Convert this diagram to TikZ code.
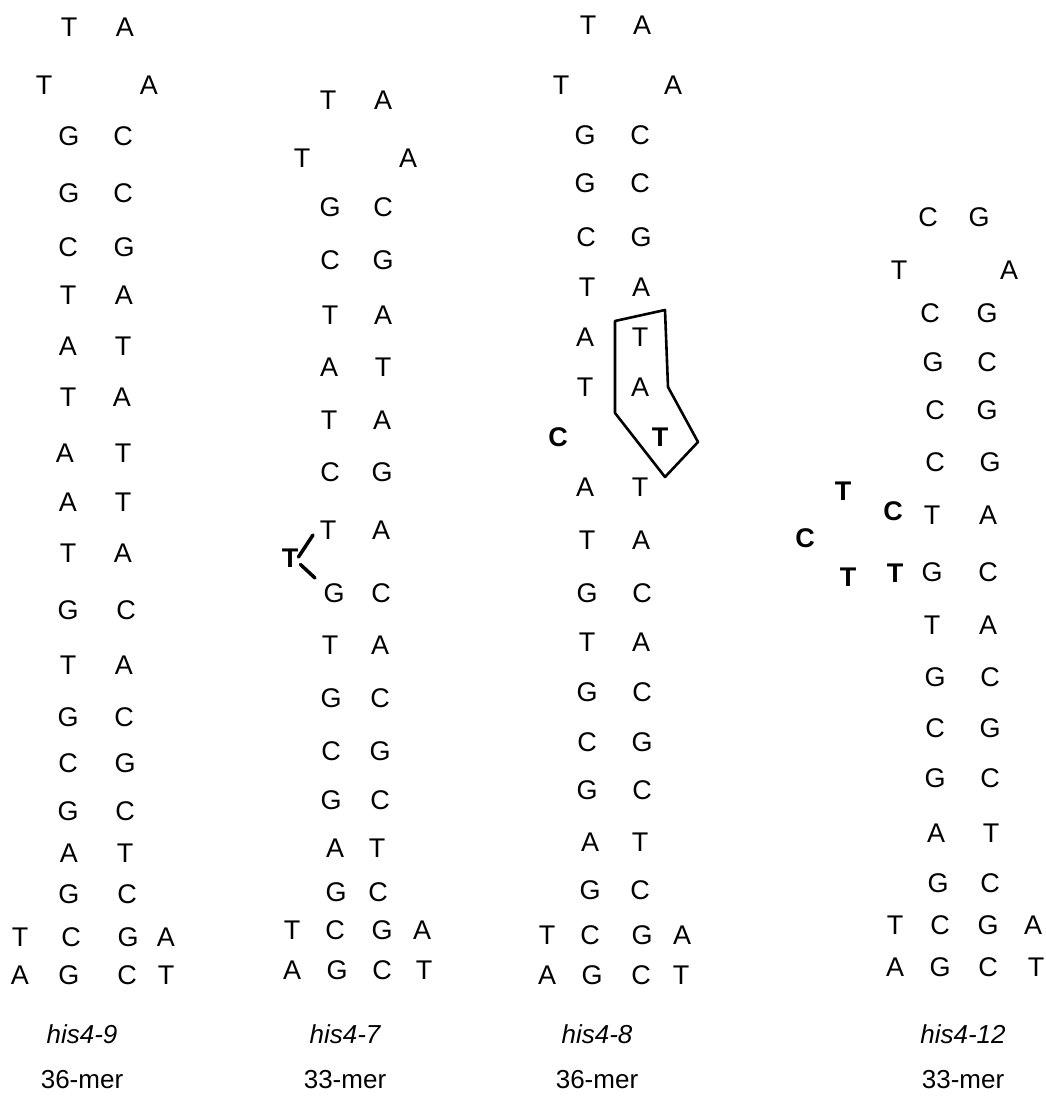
\documentclass[tikz,border=0pt]{standalone}
\usepackage{fontspec}
\setmainfont{Liberation Sans}
\usetikzlibrary{positioning}

\tikzset{
  nt/.style={inner sep=0pt, font=\fontsize{27}{30}\selectfont},
  ntb/.style={nt, font=\fontsize{27}{30}\selectfont\bfseries},
  lbl/.style={inner sep=0pt, font=\fontsize{26}{30}\selectfont\itshape},
  mer/.style={inner sep=0pt, font=\fontsize{26}{30}\selectfont},
}

\begin{document}
\begin{tikzpicture}[line cap=round,line join=round,x=1pt,y=-1pt]
	\useasboundingbox (0,0) rectangle (1045,1099);
	%Tige his4-9
	\foreach \yy/\xl/\bl/\xr/\br [count=\i] in {27/69/T/125/A, 85/44/T/149/A, 136/69/G/123/C,
		193/69/G/123/C, 247/68/C/124/G, 295/68/T/124/A, 346/68/A/123/T, 397/68/T/122/A,
		453/65/A/123/T, 502/68/A/123/T, 553/68/T/123/A, 610/68/G/126/C, 665/68/T/124/A,
		717/68/G/124/C, 763/68/C/125/G, 811/68/G/125/C, 853/69/A/125/T, 894/69/G/127/C}
	{
		\node[nt] (a\i l) at (\xl,\yy) {\bl};
		\node[nt] (a\i r) at (\xr,\yy) {\br};
	}
	\foreach \xx/\ll [count=\i] in {20/T, 71/C, 128/G, 166/A}
		\node[nt] (ah\i) at (\xx,937) {\ll};
	\foreach \xx/\ll [count=\i] in {20/A, 69/G, 127/C, 166/T}
		\node[nt] (ab\i) at (\xx,975) {\ll};
	\node[lbl] (nom9) at (82,1034) {his4-9};
	\node[mer] (mer9) at (82,1080) {36-mer};

	%Tige his4-7
	\foreach \yy/\xl/\bl/\xr/\br [count=\i] in {100/328/T/383/A, 158/302/T/408/A, 207/330/G/383/C,
		260/330/C/383/G, 315/330/T/383/A, 367/329/A/383/T, 420/329/T/382/A, 472/330/C/382/G,
		530/328/T/381/A, 593/334/G/381/C, 645/330/T/380/A, 698/331/G/380/C, 751/331/C/380/G,
		800/331/G/380/C, 848/335/A/377/T, 892/336/G/378/C}
	{
		\node[nt] (b\i l) at (\xl,\yy) {\bl};
		\node[nt] (b\i r) at (\xr,\yy) {\br};
	}
	\foreach \xx/\ll [count=\i] in {292/T, 335/C, 382/G, 422/A}
		\node[nt] (bh\i) at (\xx,930) {\ll};
	\foreach \xx/\ll [count=\i] in {292/A, 337/G, 382/C, 424/T}
		\node[nt] (bb\i) at (\xx,970) {\ll};
	%T en plus
	\node[ntb] (t7) at (290,558) {T};
	\coordinate (t7a) at (313,535);
	\coordinate (t7b) at (315,578);
	\draw[line width=3.5pt] (t7.east) ++(0,-1) -- (t7a);
	\draw[line width=3.5pt] (t7.south east) ++(2,-3) -- (t7b);
	\node[lbl] (nom7) at (345,1034) {his4-7};
	\node[mer] (mer7) at (345,1080) {33-mer};

	%Tige his4-8
	\foreach \yy/\xl/\bl/\xr/\br [count=\i] in {25/588/T/642/A, 85/561/T/673/A, 135/585/G/640/C,
		183/585/G/640/C, 237/586/C/641/G, 287/587/T/641/A, 337/585/A/640/T, 387/585/T/640/A,
		487/585/A/640/T, 540/587/T/641/A, 593/587/G/642/C, 642/587/T/641/A, 692/587/G/642/C,
		742/587/C/642/G, 790/587/G/642/C, 842/590/A/640/T, 890/590/G/640/C}
	{
		\node[nt] (c\i l) at (\xl,\yy) {\bl};
		\node[nt] (c\i r) at (\xr,\yy) {\br};
	}
	\node[ntb] (c8) at (558,437) {C};
	\node[ntb] (t8) at (660,437) {T};
	\foreach \xx/\ll [count=\i] in {547/T, 590/C, 642/G, 682/A}
		\node[nt] (ch\i) at (\xx,935) {\ll};
	\foreach \xx/\ll [count=\i] in {547/A, 592/G, 641/C, 681/T}
		\node[nt] (cb\i) at (\xx,975) {\ll};
	%encadre
	\draw[line width=2.6pt] (615,321) -- (665,310) -- (668,387) -- (698,442)
		-- (665,477) -- (615,413) -- cycle;
	\node[lbl] (nom8) at (597,1034) {his4-8};
	\node[mer] (mer8) at (597,1080) {36-mer};

	%Tige his4-12
	\foreach \yy/\xl/\bl/\xr/\br [count=\i] in {217/928/C/979/G, 270/899/T/1009/A, 313/930/C/987/G,
		362/933/G/987/C, 410/935/C/987/G, 462/935/C/990/G, 515/932/T/988/A, 572/932/G/988/C,
		625/932/T/988/A, 677/935/G/990/C, 728/935/C/990/G, 778/935/G/990/C, 833/936/A/991/T,
		883/938/G/990/C}
	{
		\node[nt] (d\i l) at (\xl,\yy) {\bl};
		\node[nt] (d\i r) at (\xr,\yy) {\br};
	}
	%boucle en plus
	\node[ntb] (e1) at (843,491) {T};
	\node[ntb] (e2) at (893,511) {C};
	\node[ntb] (e3) at (805,538) {C};
	\node[ntb] (e4) at (848,577) {T};
	\node[ntb] (e5) at (895,573) {T};
	\foreach \xx/\ll [count=\i] in {895/T, 940/C, 988/G, 1033/A}
		\node[nt] (dh\i) at (\xx,925) {\ll};
	\foreach \xx/\ll [count=\i] in {895/A, 940/G, 988/C, 1036/T}
		\node[nt] (db\i) at (\xx,967) {\ll};
	\node[lbl] (nom12) at (963,1034) {his4-12};
	\node[mer] (mer12) at (963,1080) {33-mer};
\end{tikzpicture}
\end{document}
